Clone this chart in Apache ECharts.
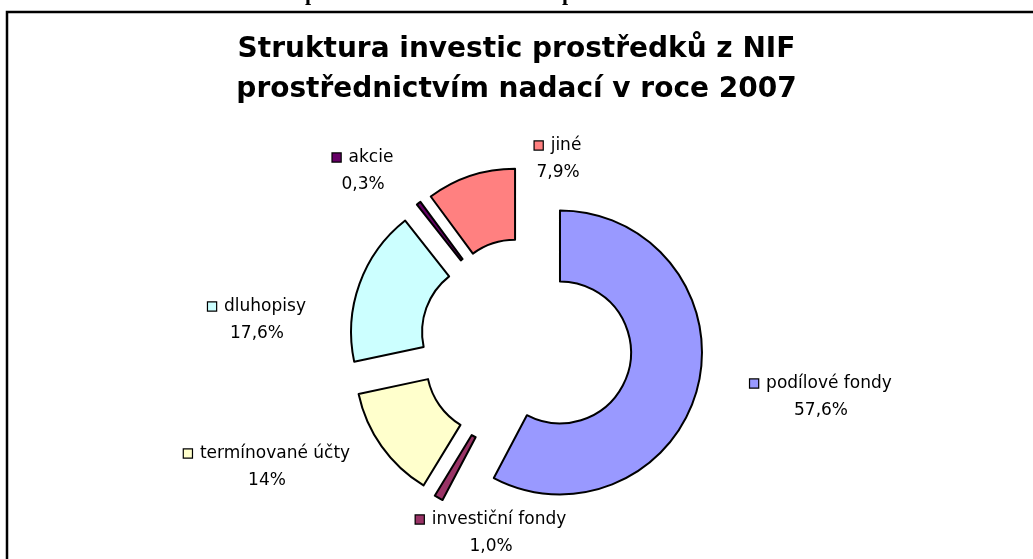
<!DOCTYPE html>
<html lang="cs">
<head>
    <meta charset="UTF-8">
    <title>Struktura investic NIF 2007</title>
    <script src="https://cdn.jsdelivr.net/npm/echarts@6/dist/echarts.min.js"></script>
    <style>
        html, body { margin: 0; padding: 0; background: #fff; }
        #chart { width: 1033px; height: 559px; }
    </style>
</head>
<body>
<div id="chart"></div>
<script type="text/javascript">
    // kategorie v poradi od 12 hodin po smeru hodinovych rucicek
    var names = ['podílové fondy', 'investiční fondy', 'termínované účty', 'dluhopisy', 'akcie', 'jiné'];
    // podily odectene z uhlu vysecu (popisky v grafu se s nimi uplne neshoduji)
    var shares = [57.6, 1.0, 12.9, 17.7, 0.5, 10.1];
    // popisky tak, jak jsou v grafu
    var labelTexts = ['57,6%', '1,0%', '14%', '17,6%', '0,3%', '7,9%'];
    var colors = ['#9999FF', '#993366', '#FFFFCC', '#CCFFFF', '#660066', '#FF8080'];

    // stred bloku popisku (v excelu byly popisky posunute rucne)
    var labelCenters = [[821, 397], [491, 533], [267, 467], [257, 320], [363, 171], [558, 159]];

    var rich = {
        n: { fontFamily: 'DejaVu Sans', fontSize: 17, fill: '#000', align: 'center', padding: [0, 0, 0, 8], lineHeight: 27 },
        p: { fontFamily: 'DejaVu Sans', fontSize: 17, fill: '#000', align: 'center', lineHeight: 27 }
    };
    var data = [];
    var labels = [];
    for (var i = 0; i < names.length; i++) {
        rich['b' + i] = {
            width: 8, height: 8, backgroundColor: colors[i],
            borderColor: '#000', borderWidth: 1.2, align: 'center'
        };
        data.push({
            name: names[i],
            value: shares[i],
            selected: true,
            itemStyle: { color: colors[i] }
        });
        labels.push({
            type: 'text',
            x: labelCenters[i][0],
            y: labelCenters[i][1],
            silent: true,
            style: {
                text: '{b' + i + '|}{n|' + names[i] + '}\n{p|' + labelTexts[i] + '}',
                rich: rich,
                align: 'center',
                verticalAlign: 'middle'
            }
        });
    }

    var chart = echarts.init(document.getElementById('chart'), null, { renderer: 'canvas' });

    var option = {
        animation: false,
        backgroundColor: '#fff',
        title: {
            text: 'Struktura investic prostředků z NIF\nprostřednictvím nadací v roce 2007',
            left: 'center',
            top: 25,
            textStyle: {
                fontFamily: 'DejaVu Sans',
                fontWeight: 'bold',
                fontSize: 28,
                lineHeight: 40,
                color: '#000'
            }
        },
        graphic: [
            {
                type: 'rect',
                shape: { x: 7, y: 12, width: 1040, height: 560 },
                style: { fill: 'none', stroke: '#000', lineWidth: 2.5 },
                silent: true
            },
            {
                type: 'text', left: 305, top: -17, silent: true,
                style: { text: 'p', font: 'bold 22px "Liberation Serif"', fill: '#000' }
            },
            {
                type: 'text', left: 562, top: -17, silent: true,
                style: { text: 'p', font: 'bold 22px "Liberation Serif"', fill: '#000' }
            }
        ].concat(labels),
        series: [{
            type: 'pie',
            center: [526, 344],
            radius: [71, 142],
            startAngle: 90,
            clockwise: true,
            selectedMode: 'multiple',
            selectedOffset: 35,
            itemStyle: { borderColor: '#000', borderWidth: 2 },
            select: { itemStyle: { borderColor: '#000', borderWidth: 2 } },
            emphasis: { disabled: true },
            label: { show: false },
            labelLine: { show: false },
            data: data
        }]
    };

    chart.setOption(option);
</script>
</body>
</html>
